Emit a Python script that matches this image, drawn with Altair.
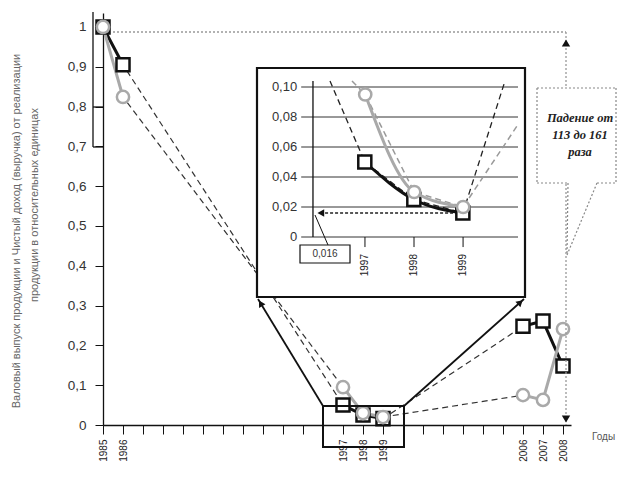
import altair as alt
import pandas as pd

# ---------------- data ----------------
years = [1985, 1986, 1997, 1998, 1999, 2006, 2007, 2008]
output_vals = [1.0, 0.905, 0.050, 0.025, 0.016, 0.248, 0.261, 0.148]   # black squares
income_vals = [1.0, 0.824, 0.095, 0.030, 0.020, 0.075, 0.063, 0.241]   # grey circles
segment = ["1985-1986", "1985-1986", "1997-1999", "1997-1999", "1997-1999",
           "2006-2008", "2006-2008", "2006-2008"]
labelled_years = [1985, 1986, 1997, 1998, 1999, 2006, 2007, 2008]
all_years = list(range(1985, 2009))
y_ticks = [0, 0.1, 0.2, 0.3, 0.4, 0.5, 0.6, 0.7, 0.8, 0.9, 1.0]
inset_years = [1997, 1998, 1999]
inset_ticks = [0, 0.02, 0.04, 0.06, 0.08, 0.10]
inset_tick_labels = ["0", "0,02", "0,04", "0,06", "0,08", "0,10"]
min_value = 0.016
min_label = "0,016"
callout_lines = ["Падение от", "113 до 161", "раза"]
y_title = ["Валовый выпуск продукции и Чистый доход (выручка) от реализации",
           "продукции в относительных единицах"]
x_title = "Годы"

# ---------------- tables ----------------
rows = []
for i, yr in enumerate(years):
    rows.append(dict(year=yr, value=output_vals[i], series="output", seg=segment[i]))
    rows.append(dict(year=yr, value=income_vals[i], series="income", seg=segment[i]))
df = pd.DataFrame(rows)
df_out = df[df.series == "output"]
df_inc = df[df.series == "income"]
in_out = df_out[(df_out.year >= 1986) & (df_out.year <= 2006)]
in_inc = df_inc[(df_inc.year >= 1986) & (df_inc.year <= 2006)]
core_out = df_out[df_out.year.isin(inset_years)]
core_inc = df_inc[df_inc.year.isin(inset_years)]
ONE = pd.DataFrame({"k": [0]})

BLACK = "#111111"
GREY = "#a9a9a9"
FONT = "Liberation Sans"

W, H = 468, 412

# ---------------- main chart ----------------
MX = alt.Scale(domain=[1985, 2008.4], nice=False, zero=False)
MY = alt.Scale(domain=[0, 1.035], nice=False, zero=False)
lab_expr = ("indexof([" + ",".join(str(v) for v in labelled_years) +
            "], datum.value) >= 0 ? toString(datum.value) : ''")
X = alt.X("year:Q", scale=MX, axis=alt.Axis(
    values=all_years, labelExpr=lab_expr, title=None, grid=False,
    tickSize=9, tickColor=BLACK, domainColor=BLACK, domainWidth=1.3,
    labelAngle=270, labelAlign="right", labelBaseline="middle",
    labelFontSize=10, labelFont=FONT, labelColor="#222", labelPadding=5,
    labelOverlap=False, labelFlush=False, labelBound=False))
Y = alt.Y("value:Q", scale=MY, axis=alt.Axis(
    values=y_ticks, labelExpr="replace(format(datum.value, '~g'), '.', ',')",
    title=None, grid=False, tickSize=8, tickColor=BLACK, domainColor=BLACK,
    domainWidth=1.3, labelFontSize=13.5, labelFont=FONT, labelColor="#333",
    labelPadding=9))

main_dash = alt.Chart(df).mark_line(strokeDash=[6, 4], strokeWidth=1.2, color="#333").encode(
    x=X, y=Y, detail="series:N")
main_out = alt.Chart(df_out).mark_line(color=BLACK, strokeWidth=3).encode(x=X, y=Y, detail="seg:N")
main_inc = alt.Chart(df_inc).mark_line(color=GREY, strokeWidth=3).encode(x=X, y=Y, detail="seg:N")
main_sq = alt.Chart(df_out).mark_point(shape="square", size=170, filled=True, fill="white",
                                        stroke=BLACK, strokeWidth=2.5, opacity=1).encode(x=X, y=Y)
main_ci = alt.Chart(df_inc).mark_point(shape="circle", size=150, filled=True, fill="white",
                                        stroke=GREY, strokeWidth=2.5, opacity=1).encode(x=X, y=Y)
main = alt.layer(main_dash, main_out, main_inc, main_sq, main_ci)


# ---------------- helpers for decorations ----------------
def seg_line(x1, y1, x2, y2, color=BLACK, width=1.3, dash=None):
    kw = dict(color=color, strokeWidth=width)
    if dash:
        kw["strokeDash"] = dash
    return alt.Chart(ONE).mark_rule(**kw).encode(
        x=alt.value(x1), y=alt.value(y1), x2=alt.value(x2), y2=alt.value(y2))


def box(x1, y1, x2, y2, fill="white", stroke=BLACK, width=1.5):
    kw = dict(fill=fill, strokeWidth=width)
    if stroke:
        kw["stroke"] = stroke
    return alt.Chart(ONE).mark_rect(**kw).encode(
        x=alt.value(x1), y=alt.value(y1), x2=alt.value(x2), y2=alt.value(y2))


def arrow(x, y, shape, angle=0, size=60):
    return alt.Chart(ONE).mark_point(shape=shape, filled=True, color=BLACK, opacity=1,
                                     size=size, angle=angle).encode(x=alt.value(x), y=alt.value(y))


def label(x, y, txt, **kw):
    return alt.Chart(ONE).mark_text(text=txt, **kw).encode(x=alt.value(x), y=alt.value(y))


# ---------------- decorations below the inset ----------------
deco_main = alt.layer(
    seg_line(10, 19, 463, 19, color="#999", width=1.5, dash=[2, 2]),
    seg_line(463, 19, 463, 412, color="#999", width=1.3, dash=[2, 2]),
    arrow(463, 30, "triangle-up", size=70),
    arrow(463, 406, "triangle-down", size=70),
    seg_line(-10, -1, -10, 134),
    seg_line(-10, 94, 0, 94),
    seg_line(-10, 134, 0, 134),
    box(154, 55, 422, 284, fill="white", stroke=BLACK, width=2.2),
    box(220, 393, 301, 434, fill="transparent", stroke=BLACK, width=2),
    seg_line(220, 393, 155, 286, width=1.8),
    seg_line(301, 393, 421, 286, width=1.8),
    arrow(157.6, 290.3, "triangle-up", angle=329, size=55),
    arrow(417.3, 289.3, "triangle-up", angle=48, size=55),
)

# ---------------- inset axes ----------------
IX = alt.Scale(domain=[1995.7, 2000.12], range=[198.2, 415], nice=False, zero=False)
IY = alt.Scale(domain=[0, 0.104], range=[224, 68], nice=False, zero=False)
grid_df = pd.DataFrame({"v": inset_ticks, "lab": inset_tick_labels,
                        "x0": [1995.7] * len(inset_ticks), "x1": [2000.12] * len(inset_ticks)})
yr_df = pd.DataFrame({"year": inset_years, "y0": [0] * 3, "y1": [-0.0067] * 3,
                      "lab": [str(v) for v in inset_years]})
axis_df = pd.DataFrame({"x": [1995.94], "y0": [0], "y1": [0.104]})
min_df = pd.DataFrame({"x0": [1999], "x1": [1996.12], "y": [min_value], "xa": [1996.1]})

inset_axes = alt.layer(
    alt.Chart(grid_df).mark_rule(color="#333", strokeWidth=1).encode(
        x=alt.X("x0:Q", scale=IX, axis=None), x2="x1:Q",
        y=alt.Y("v:Q", scale=IY, axis=None)),
    alt.Chart(axis_df).mark_rule(color=BLACK, strokeWidth=1.3).encode(
        x=alt.X("x:Q", scale=IX, axis=None),
        y=alt.Y("y0:Q", scale=IY, axis=None), y2="y1:Q"),
    alt.Chart(yr_df).mark_rule(color=BLACK, strokeWidth=1).encode(
        x=alt.X("year:Q", scale=IX, axis=None),
        y=alt.Y("y0:Q", scale=IY, axis=None), y2="y1:Q"),
    alt.Chart(yr_df).mark_text(angle=270, align="right", baseline="middle", fontSize=10,
                               font=FONT, color="#222", yOffset=17).encode(
        x=alt.X("year:Q", scale=IX, axis=None),
        y=alt.Y("y0:Q", scale=IY, axis=None), text="lab:N"),
    alt.Chart(grid_df).mark_text(align="right", baseline="middle", fontSize=13, font=FONT,
                                 color="#333", dx=-4).encode(
        x=alt.X("x0:Q", scale=IX, axis=None),
        y=alt.Y("v:Q", scale=IY, axis=None), text="lab:N"),
    alt.Chart(min_df).mark_rule(color="#222", strokeWidth=1.5, strokeDash=[3, 2]).encode(
        x=alt.X("x0:Q", scale=IX, axis=None), x2="x1:Q",
        y=alt.Y("y:Q", scale=IY, axis=None)),
    alt.Chart(min_df).mark_point(shape="triangle-left", filled=True, color=BLACK, opacity=1,
                                 size=60).encode(
        x=alt.X("xa:Q", scale=IX, axis=None),
        y=alt.Y("y:Q", scale=IY, axis=None)),
)

# ---------------- inset series ----------------
BX = alt.Scale(domain=[1996.29, 1999.86], range=[227, 402], clamp=True, nice=False, zero=False)
GX = alt.Scale(domain=[1996.73, 2000.12], range=[249, 415], clamp=True, nice=False, zero=False)
CY = alt.Scale(domain=[0, 0.104], range=[224, 68], clamp=True, nice=False, zero=False)

bx = alt.X("year:Q", scale=BX, axis=None)
gx = alt.X("year:Q", scale=GX, axis=None)
cyb = alt.Y("value:Q", scale=CY, axis=None)
cyg = alt.Y("value:Q", scale=CY, axis=None)

inset_black = alt.layer(
    alt.Chart(in_out).mark_line(strokeDash=[6, 4], strokeWidth=1.3, color="#222").encode(x=bx, y=cyb),
    alt.Chart(core_out).mark_line(color=BLACK, strokeWidth=3, interpolate="monotone").encode(x=bx, y=cyb),
    alt.Chart(core_out).mark_point(shape="square", size=170, filled=True, fill="white",
                                   stroke=BLACK, strokeWidth=2.5, opacity=1).encode(x=bx, y=cyb),
)
inset_grey = alt.layer(
    alt.Chart(in_inc).mark_line(strokeDash=[6, 4], strokeWidth=1.5, color="#999").encode(x=gx, y=cyg),
    alt.Chart(core_inc).mark_line(color=GREY, strokeWidth=3, interpolate="monotone").encode(x=gx, y=cyg),
    alt.Chart(core_inc).mark_point(shape="circle", size=150, filled=True, fill="white",
                                   stroke=GREY, strokeWidth=2.5, opacity=1).encode(x=gx, y=cyg),
)

# ---------------- top annotations ----------------
deco_top = alt.layer(
    box(197, 232, 247, 250, fill="white", stroke=BLACK, width=1.2),
    label(222, 241, min_label, fontSize=10, font=FONT, color="#333", align="center", baseline="middle"),
    seg_line(225, 232, 212, 202, width=1),
    box(434, 75, 513, 170, fill="white", stroke=None),
    seg_line(434, 75, 513, 75, color="#888", width=1.2, dash=[2, 2]),
    seg_line(434, 75, 434, 170, color="#888", width=1.2, dash=[2, 2]),
    seg_line(513, 75, 513, 170, color="#888", width=1.2, dash=[2, 2]),
    seg_line(434, 170, 465, 170, color="#888", width=1.2, dash=[2, 2]),
    seg_line(494, 170, 513, 170, color="#888", width=1.2, dash=[2, 2]),
    seg_line(465, 170, 464, 242, color="#888", width=1.2, dash=[2, 2]),
    seg_line(494, 170, 464, 242, color="#888", width=1.2, dash=[2, 2]),
    label(477, 105, callout_lines[0], fontSize=12.5, font="Liberation Serif", fontWeight="bold",
          fontStyle="italic", color="#222", align="center", baseline="middle"),
    label(477, 122, callout_lines[1], fontSize=12.5, font="Liberation Serif", fontWeight="bold",
          fontStyle="italic", color="#222", align="center", baseline="middle"),
    label(477, 139, callout_lines[2], fontSize=12.5, font="Liberation Serif", fontWeight="bold",
          fontStyle="italic", color="#222", align="center", baseline="middle"),
    label(489, 424, x_title, fontSize=10, font=FONT, color="#555", align="left", baseline="middle"),
    label(-86, 218, y_title[0], fontSize=11, font=FONT, color="#666", angle=270,
          align="center", baseline="middle"),
    label(-68, 192, y_title[1], fontSize=11, font=FONT, color="#666", angle=270,
          align="center", baseline="middle"),
)

chart = alt.layer(main, deco_main, inset_axes, inset_black, inset_grey, deco_top).resolve_scale(
    x="independent", y="independent"
).properties(
    width=W, height=H,
    padding={"left": 95, "top": 5, "right": 46, "bottom": 40},
    autosize=alt.AutoSizeParams(type="none"),
).configure_view(stroke=None)

chart.save("out.html", embed_options={"renderer": "svg", "actions": False})
